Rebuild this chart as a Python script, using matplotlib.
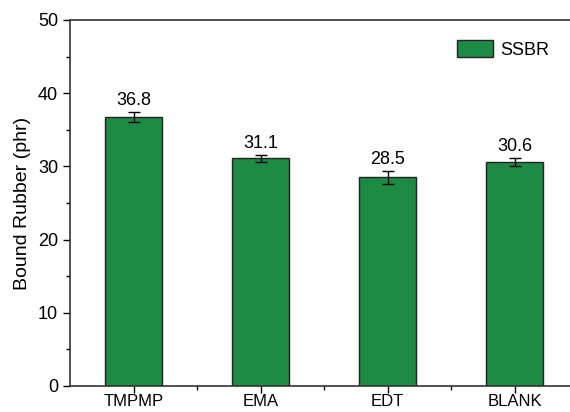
import numpy as np
import matplotlib
matplotlib.use("Agg")
from matplotlib import pyplot as plt
from matplotlib.ticker import MultipleLocator

plt.rcParams['font.family'] = ['Liberation Sans', 'DejaVu Sans']

# data
samples = ["TMPMP", "EMA", "EDT", "BLANK"]
bound_rubber = [36.8, 31.1, 28.5, 30.6]
err = [0.7, 0.5, 0.85, 0.5]

bar_color = "#1e8b45"

fig = plt.figure(figsize=(5.70, 4.12), dpi=100)
# axes spills past right edge like the cropped original
ax = fig.add_axes([70/570, 26/412, 508/570, 366/412])

x = np.arange(len(samples))
ax.bar(x, bound_rubber, width=0.45, color=bar_color, edgecolor="#222222",
       linewidth=1.0, label="SSBR", zorder=2)
ax.errorbar(x, bound_rubber, yerr=err, fmt="none", ecolor="black",
            elinewidth=1.0, capsize=4, capthick=1.0, zorder=3)

for xi, v, e in zip(x, bound_rubber, err):
    ax.text(xi, v + e + 0.4, "%.1f" % v, ha="center", va="bottom", fontsize=13)

ax.set_xlim(-0.5, 3.5)
ax.set_ylim(0, 50)
ax.set_xticks(x)
ax.set_xticklabels(samples)
ax.set_xticks(x + 0.5, minor=True)
ax.yaxis.set_major_locator(MultipleLocator(10))
ax.yaxis.set_minor_locator(MultipleLocator(5))

ax.tick_params(axis="both", which="major", direction="out", length=5,
               width=1.0, labelsize=13)
ax.tick_params(axis="x", which="major", pad=1, labelsize=12)
ax.tick_params(axis="both", which="minor", direction="out", length=3, width=1.0)
ax.tick_params(top=False, right=False, which="both")
ax.set_ylabel("Bound Rubber (phr)", fontsize=14, labelpad=5)

for s in ax.spines.values():
    s.set_linewidth(1.2)
    s.set_color("#333333")

ax.legend(loc="upper right", bbox_to_anchor=(0.975, 0.99), frameon=False,
          fontsize=13, handlelength=2.0, handleheight=1.1, handletextpad=0.4)

fig.savefig("out.png", dpi=100)
